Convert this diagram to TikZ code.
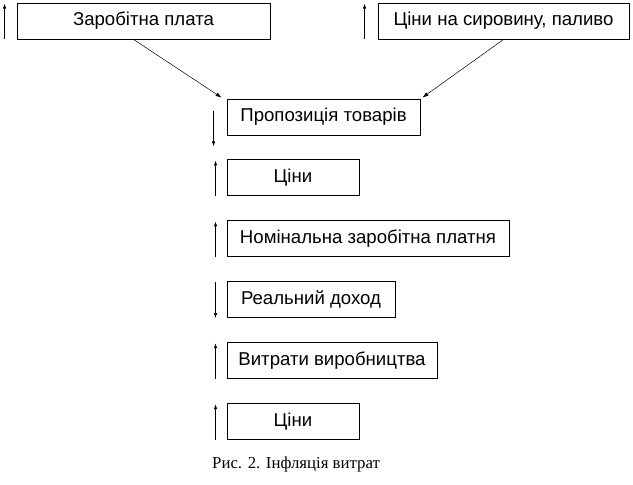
\documentclass[tikz,border=0pt]{standalone}
\usepackage{fontspec}
\setmainfont{Liberation Sans}
\newfontfamily\captionfont{Liberation Serif}
\usetikzlibrary{positioning,calc,arrows.meta}

\begin{document}
\begin{tikzpicture}[x=1pt,y=-1pt,box/.style={rectangle,draw,line width=0.9pt,minimum height=36pt,inner sep=0pt,font=\fontsize{18.6}{20}\selectfont},
edge/.style={-{Latex[length=6pt,width=4pt]},line width=0.5pt},
updown/.style={-{Latex[length=5pt,width=3.5pt]},line width=0.9pt}]
\useasboundingbox (0,0) rectangle (633,485);

% nodes
\node[box,minimum width=253pt] (zarplata) at (143.5,21) {Заробітна плата};
\node[box,minimum width=251pt] (syrovyna) at (503.5,21) {Ціни на сировину, паливо};
\node[box,minimum width=193pt] (propoz) at (323.5,117) {Пропозиція товарів};
\node[box,minimum width=132pt,below=24pt of propoz.south west,anchor=north west] (ciny) {Ціни};
\node[box,minimum width=282pt,below=24pt of ciny.south west,anchor=north west] (nomin) {Номінальна заробітна платня};
\node[box,minimum width=168pt,below=24pt of nomin.south west,anchor=north west] (realn) {Реальний доход};
\node[box,minimum width=210pt,below=24pt of realn.south west,anchor=north west] (vytraty) {Витрати виробництва};
\node[box,minimum width=132pt,below=24pt of vytraty.south west,anchor=north west] (ciny2) {Ціни};

% caption
\node[anchor=base west,inner sep=0pt,font=\captionfont\fontsize{16.8}{18}\selectfont] (caption) at (212,468) {Рис. 2. Інфляція витрат};

% arrows
\draw[edge] ([xshift=-10pt]zarplata.south) -- ([xshift=-5pt,yshift=1pt]propoz.north west);
\draw[edge] (syrovyna.south) -- ([xshift=2pt,yshift=1pt]propoz.north east);

\draw[updown] ([xshift=-12pt]zarplata.south west) -- ([xshift=-12pt,yshift=-1pt]zarplata.north west);
\draw[updown] ([xshift=-13pt]syrovyna.south west) -- ([xshift=-13pt,yshift=-1pt]syrovyna.north west);
\draw[updown] ([xshift=-13pt,yshift=-12pt]propoz.north west) -- ([xshift=-13pt,yshift=-11pt]propoz.south west);
\draw[updown] ([xshift=-11pt]ciny.south west) -- ([xshift=-11pt,yshift=-1pt]ciny.north west);
\draw[updown] ([xshift=-11pt]nomin.south west) -- ([xshift=-11pt,yshift=-1pt]nomin.north west);
\draw[updown] ([xshift=-11pt,yshift=-1pt]realn.north west) -- ([xshift=-11pt]realn.south west);
\draw[updown] ([xshift=-11pt]vytraty.south west) -- ([xshift=-11pt,yshift=-1pt]vytraty.north west);
\draw[updown] ([xshift=-11pt]ciny2.south west) -- ([xshift=-11pt,yshift=-1pt]ciny2.north west);

\end{tikzpicture}
\end{document}
